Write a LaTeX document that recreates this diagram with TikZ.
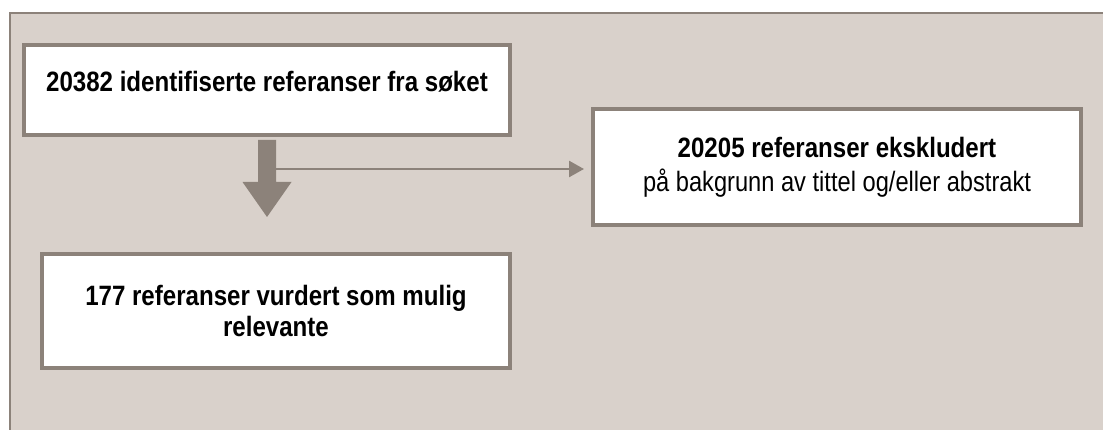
\documentclass[tikz,border=0pt]{standalone}
\usepackage{fontspec}
\setmainfont{Liberation Sans}[FakeStretch=0.845,BoldFeatures={FakeStretch=0.86}]
\usetikzlibrary{arrows.meta}
\definecolor{bgc}{RGB}{217,209,203}
\definecolor{edgec}{RGB}{140,130,122}
\begin{document}
\begin{tikzpicture}[x=1pt,y=-1pt,
  box/.style={draw=edgec, line width=4pt, fill=white, inner sep=0pt, align=center,
    font=\fontsize{28}{34}\selectfont},
  conn/.style={draw=edgec, line width=2.5pt, shorten >=7pt,
    -{Triangle[length=15pt,width=16pt]}},
  bigarrow/.style={fill=edgec, draw=none}]
\useasboundingbox (0,0) rectangle (1103,430);
\fill[bgc] (10,13) rectangle (1103,430);
\draw[edgec, line width=2.5pt] (10,430) -- (10,13) -- (1103,13);
\node[box, minimum width=486pt, minimum height=90pt, text depth=16.5pt,
  font=\fontsize{28}{34}\selectfont\bfseries] (b1) at (267,90)
  {20382 identifiserte referanser fra søket};
\node[box, minimum width=488pt, minimum height=116pt] (b2) at (837,167)
  {\textbf{20205 referanser ekskludert}\\på bakgrunn av tittel og/eller abstrakt};
\node[box, minimum width=468pt, minimum height=114pt,
  font=\fontsize{28}{31}\selectfont\bfseries] (b3) at (276,311)
  {177 referanser vurdert som mulig\\relevante};
\fill[bigarrow] (b1.south) ++(-9,3) -- ++(18,0) -- ++(0,42) -- ++(15.5,0)
  -- ++(-24.5,35) -- ++(-24.5,-35) -- ++(15.5,0) -- cycle;
\path (b1.south) ++(9,32) coordinate (split);
\draw[conn] (split) -- (split -| b2.west);
\end{tikzpicture}
\end{document}
